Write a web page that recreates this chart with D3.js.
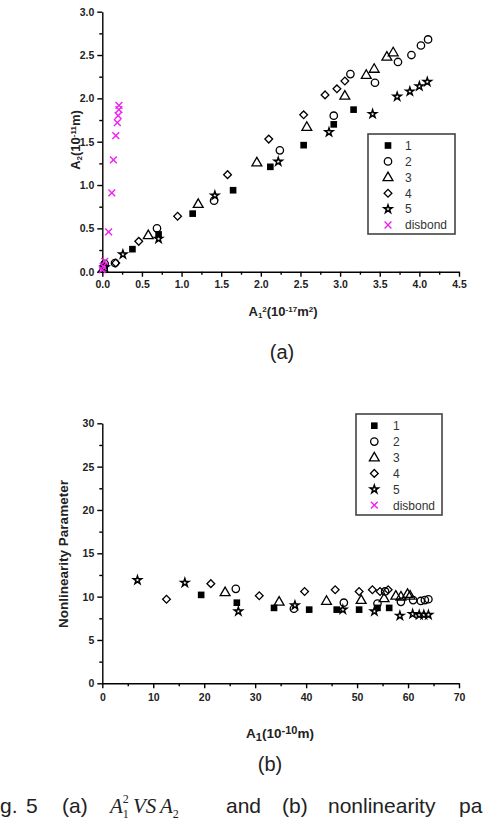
<!DOCTYPE html>
<meta charset="utf-8">
<style>
body { margin: 0; background: #fff; }
text { font-family: Arial, "Liberation Sans", sans-serif; }
.axis path, .axis line { stroke: #000; stroke-width: 1.4px; }
.axis text { font-size: 10.5px; font-weight: bold; fill: #222; }
.legend text { font-size: 12px; fill: #333; }
</style>
<svg width="484" height="832"></svg>
<script src="https://d3js.org/d3.v7.min.js"></script>
<script>

var seriesNames = ["1", "2", "3", "4", "5", "disbond"];

// (a) A1^2 vs A2
var a1 = [[0.03,0.05],[0.38,0.26],[0.71,0.43],[1.14,0.67],[1.65,0.94],[2.12,1.21],[2.54,1.46],[2.92,1.70],[3.17,1.87]];
var a2 = [[0.03,0.09],[0.16,0.10],[0.69,0.50],[1.41,0.82],[2.24,1.40],[2.92,1.80],[3.13,2.28],[3.44,2.18],[3.73,2.42],[3.90,2.50],[4.02,2.61],[4.11,2.68]];
var a3 = [[0.01,0.03],[0.58,0.42],[1.21,0.78],[1.95,1.26],[2.58,1.67],[3.06,2.03],[3.33,2.27],[3.43,2.34],[3.59,2.48],[3.67,2.53]];
var a4 = [[0.17,0.10],[0.46,0.35],[0.95,0.64],[1.58,1.12],[2.10,1.53],[2.54,1.81],[2.81,2.04],[2.96,2.11],[3.06,2.20]];
var a5 = [[0.03,0.05],[0.26,0.20],[0.71,0.38],[1.42,0.88],[2.22,1.27],[2.86,1.61],[3.41,1.82],[3.72,2.02],[3.88,2.08],[4.00,2.14],[4.10,2.19]];
var aDis = [[0.00,0.02],[0.01,0.06],[0.03,0.12],[0.08,0.46],[0.12,0.91],[0.14,1.29],[0.17,1.57],[0.19,1.72],[0.20,1.80],[0.21,1.87],[0.21,1.92]];
var aXTicks = [0, 0.5, 1.0, 1.5, 2.0, 2.5, 3.0, 3.5, 4.0, 4.5];
var aYTicks = [0, 0.5, 1.0, 1.5, 2.0, 2.5, 3.0];

// (b) A1 vs nonlinearity parameter
var b1 = [[19.4,10.2],[26.4,9.3],[33.7,8.7],[40.6,8.5],[46.0,8.5],[50.4,8.5],[54.0,8.7],[56.3,8.7]];
var b2 = [[26.2,10.9],[37.6,8.6],[47.4,9.3],[54.0,9.2],[55.5,10.6],[58.6,9.4],[61.0,9.6],[62.5,9.5],[63.3,9.6],[64.0,9.7]];
var b3 = [[24.1,10.5],[34.7,9.4],[44.0,9.5],[50.8,9.6],[55.3,9.8],[57.6,10.1],[58.6,10.0],[59.9,10.3],[60.4,10.1]];
var b4 = [[12.6,9.7],[21.3,11.5],[30.8,10.1],[39.7,10.6],[45.7,10.8],[50.4,10.6],[53.0,10.8],[54.5,10.6],[56.1,10.8]];
var b5 = [[6.9,11.9],[16.2,11.6],[26.7,8.3],[37.8,9.0],[47.2,8.5],[53.4,8.3],[58.4,7.8],[60.9,8.0],[62.2,7.9],[63.1,7.9],[64.0,7.9]];
var bDis = [];
var bXTicks = [0, 10, 20, 30, 40, 50, 60, 70];
var bYTicks = [0, 5, 10, 15, 20, 25, 30];

var kinds = ["square", "circle", "triangle", "diamond", "star", "cross"];
var magenta = "#f020f0";

var svg = d3.select("svg");
svg.append("rect").attr("width", 484).attr("height", 832).attr("fill", "#fff");

function mids(t) {
  var m = [];
  for (var i = 0; i < t.length - 1; i++) m.push((t[i] + t[i + 1]) / 2);
  return m;
}

function drawMark(g, kind, x, y) {
  var s;
  if (kind == "square") {
    g.append("path").attr("d", d3.symbol(d3.symbolSquare, 44)())
      .attr("transform", "translate(" + x + "," + y + ")").attr("fill", "#000");
  } else if (kind == "circle") {
    g.append("circle").attr("cx", x).attr("cy", y).attr("r", 3.7)
      .attr("fill", "none").attr("stroke", "#000").attr("stroke-width", 1.3);
  } else if (kind == "triangle") {
    g.append("path").attr("d", d3.symbol(d3.symbolTriangle, 42)())
      .attr("transform", "translate(" + x + "," + (y + 0.5) + ")")
      .attr("fill", "none").attr("stroke", "#000").attr("stroke-width", 1.3);
  } else if (kind == "diamond") {
    g.append("path").attr("d", d3.symbol(d3.symbolSquare, 30)())
      .attr("transform", "translate(" + x + "," + y + ") rotate(45)")
      .attr("fill", "none").attr("stroke", "#000").attr("stroke-width", 1.3);
  } else if (kind == "star") {
    g.append("path").attr("d", d3.symbol(d3.symbolStar, 20)())
      .attr("transform", "translate(" + x + "," + y + ")")
      .attr("fill", "#fff").attr("stroke", "#000").attr("stroke-width", 1.5);
  } else {
    s = 3.4;
    g.append("path").attr("d", "M" + (-s) + "," + (-s) + "L" + s + "," + s + "M" + (-s) + "," + s + "L" + s + "," + (-s))
      .attr("transform", "translate(" + x + "," + y + ")")
      .attr("stroke", magenta).attr("stroke-width", 1.4).attr("fill", "none");
  }
}

function panel(cfg) {
  var x = d3.scaleLinear().domain(cfg.xDomain).range([102.3, 459]);
  var y = d3.scaleLinear().domain(cfg.yDomain).range([cfg.bottom, cfg.top]);

  // minor ticks
  svg.append("g").attr("class", "axis")
      .attr("transform", "translate(0," + cfg.bottom + ")")
      .call(d3.axisBottom(x).tickValues(mids(cfg.xTicks)).tickSize(3).tickFormat(""))
      .select(".domain").remove();
  svg.append("g").attr("class", "axis")
      .attr("transform", "translate(102.3,0)")
      .call(d3.axisLeft(y).tickValues(mids(cfg.yTicks)).tickSize(3).tickFormat(""))
      .select(".domain").remove();

  // major ticks
  svg.append("g").attr("class", "axis")
      .attr("transform", "translate(0," + cfg.bottom + ")")
      .call(d3.axisBottom(x).tickValues(cfg.xTicks).tickSize(5).tickSizeOuter(0)
        .tickPadding(cfg.xPad).tickFormat(cfg.fmt));
  svg.append("g").attr("class", "axis")
      .attr("transform", "translate(102.3,0)")
      .call(d3.axisLeft(y).tickValues(cfg.yTicks).tickSize(5).tickSizeOuter(0)
        .tickPadding(3).tickFormat(cfg.fmt));

  var marks = svg.append("g");
  cfg.series.forEach(function(ser, i) {
    ser.forEach(function(d) { drawMark(marks, kinds[i], x(d[0]), y(d[1])); });
  });

  // legend
  var L = cfg.legend;
  var lg = svg.append("g").attr("class", "legend");
  lg.append("rect").attr("x", L.x0).attr("y", L.y0).attr("width", L.w).attr("height", L.h)
    .attr("fill", "#fff").attr("stroke", "#444").attr("stroke-width", 1.6);
  seriesNames.forEach(function(n, i) {
    var yy = L.y0 + L.first + i * L.step;
    drawMark(lg, kinds[i], L.x0 + L.sx, yy);
    lg.append("text").attr("x", L.x0 + L.tx).attr("y", yy).attr("dy", "0.36em").text(n);
  });
}

panel({
  xDomain: [0, 4.5], yDomain: [0, 3], top: 11.7, bottom: 271.7,
  xTicks: aXTicks, yTicks: aYTicks, fmt: d3.format(".1f"), xPad: 4,
  series: [a1, a2, a3, a4, a5, aDis],
  legend: { x0: 368, y0: 134, w: 87, h: 100, first: 11.5, step: 15.9, sx: 20, tx: 37 }
});

panel({
  xDomain: [0, 70], yDomain: [0, 30], top: 423.3, bottom: 683.3,
  xTicks: bXTicks, yTicks: bYTicks, fmt: d3.format("d"), xPad: 5,
  series: [b1, b2, b3, b4, b5, bDis],
  legend: { x0: 356, y0: 414, w: 86, h: 101, first: 11.7, step: 15.9, sx: 18.3, tx: 37 }
});

// axis titles
var t;
t = svg.append("text").attr("transform", "translate(80,140) rotate(-90)")
  .attr("text-anchor", "middle").attr("font-size", 13).attr("font-weight", "bold").attr("fill", "#222");
t.append("tspan").text("A");
t.append("tspan").attr("font-size", 8).attr("baseline-shift", "-25%").text("2");
t.append("tspan").text("(10");
t.append("tspan").attr("font-size", 8).attr("baseline-shift", "45%").text("-11");
t.append("tspan").text("m)");

t = svg.append("text").attr("x", 283).attr("y", 316)
  .attr("text-anchor", "middle").attr("font-size", 13).attr("font-weight", "bold").attr("fill", "#222");
t.append("tspan").text("A");
t.append("tspan").attr("font-size", 8).attr("baseline-shift", "-25%").text("1");
t.append("tspan").attr("font-size", 8).attr("baseline-shift", "45%").text("2");
t.append("tspan").text("(10");
t.append("tspan").attr("font-size", 8).attr("baseline-shift", "45%").text("-17");
t.append("tspan").text("m");
t.append("tspan").attr("font-size", 8).attr("baseline-shift", "45%").text("2");
t.append("tspan").text(")");

svg.append("text").attr("transform", "translate(68,554) rotate(-90)")
  .attr("text-anchor", "middle").attr("font-size", 13.5).attr("font-weight", "bold").attr("fill", "#222")
  .text("Nonlinearity Parameter");

t = svg.append("text").attr("x", 280).attr("y", 738)
  .attr("text-anchor", "middle").attr("font-size", 13.5).attr("font-weight", "bold").attr("fill", "#222");
t.append("tspan").text("A");
t.append("tspan").attr("font-size", 11).attr("baseline-shift", "-25%").text("1");
t.append("tspan").text("(10");
t.append("tspan").attr("font-size", 11).attr("baseline-shift", "40%").text("-10");
t.append("tspan").text("m)");

svg.append("text").attr("x", 282).attr("y", 359).attr("text-anchor", "middle")
  .attr("font-size", 20).attr("fill", "#222").text("(a)");
svg.append("text").attr("x", 270).attr("y", 771).attr("text-anchor", "middle")
  .attr("font-size", 20).attr("fill", "#222").text("(b)");

// caption (cropped at both sides in the source)
var serif = "'Liberation Serif', 'DejaVu Serif', serif";
var c2 = svg.append("text").attr("y", 813).attr("font-size", 21).attr("fill", "#222");
c2.append("tspan").attr("x", 0).text("g.");
c2.append("tspan").attr("x", 26).text("5");
c2.append("tspan").attr("x", 62).text("(a)");
c2.append("tspan").attr("x", 110).attr("font-family", serif).attr("font-style", "italic").text("A");
c2.append("tspan").attr("font-size", 12).attr("dy", 5).attr("dx", 0).attr("font-family", serif).text("1");
c2.append("tspan").attr("font-size", 12).attr("dy", -15).attr("dx", -6).attr("font-family", serif).text("2");
c2.append("tspan").attr("x", 133).attr("dy", 10).attr("font-family", serif).attr("font-style", "italic").text("VS");
c2.append("tspan").attr("x", 160).attr("font-family", serif).attr("font-style", "italic").text("A");
c2.append("tspan").attr("font-size", 12).attr("dy", 5).attr("font-family", serif).text("2");
c2.append("tspan").attr("x", 226).attr("dy", -5).text("and");
c2.append("tspan").attr("x", 282).text("(b)");
c2.append("tspan").attr("x", 328).text("nonlinearity");
c2.append("tspan").attr("x", 459).text("pa");

</script>
